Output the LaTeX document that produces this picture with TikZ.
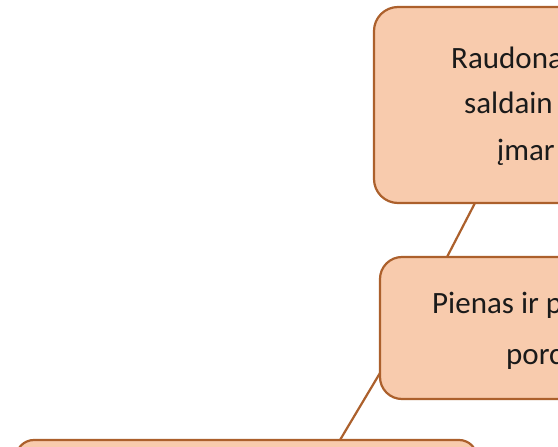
\documentclass[tikz,border=0pt]{standalone}
\usepackage{fontspec}
\setmainfont{Carlito}
\definecolor{boxfill}{HTML}{F8CBAD}
\definecolor{boxline}{HTML}{AC602C}
\definecolor{txt}{HTML}{1A1A1A}
\begin{document}
\begin{tikzpicture}[x=1pt,y=-1pt,
  box/.style={draw=boxline,fill=boxfill,line width=2.2pt,rectangle,rounded corners=24pt,outer sep=0pt,inner sep=0pt},
  link/.style={draw=boxline,line width=2.2pt},
  lbl/.style={anchor=base west,inner sep=0pt,text=txt,font=\fontsize{31}{36}\selectfont}]
\useasboundingbox (0,0) rectangle (558,447);
\clip (0,0) rectangle (558,447);
\fill[white] (0,0) rectangle (558,447);
\node[box,minimum width=366pt,minimum height=196pt] (b1) at (557,105) {};
\node[box,minimum width=360pt,minimum height=142pt,rounded corners=22pt] (b2) at (560,328) {};
\node[box,minimum width=461pt,minimum height=100pt,rounded corners=18pt] (b3) at (246.5,490) {};
\draw[link] ([xshift=101pt]b1.south west) -- ([xshift=67pt]b2.north west);
\draw[link] ([yshift=26pt]b2.south west) -- ([xshift=324pt]b3.north west);
\node[lbl] (t1) at (451,68) {Raudona};
\node[lbl] (t2) at (464,113) {saldain};
\node[lbl] (t3) at (497,160) {įmar};
\node[lbl] (t4) at (432,313) {Pienas ir p};
\node[lbl] (t5) at (506,364) {porc};
\end{tikzpicture}
\end{document}
